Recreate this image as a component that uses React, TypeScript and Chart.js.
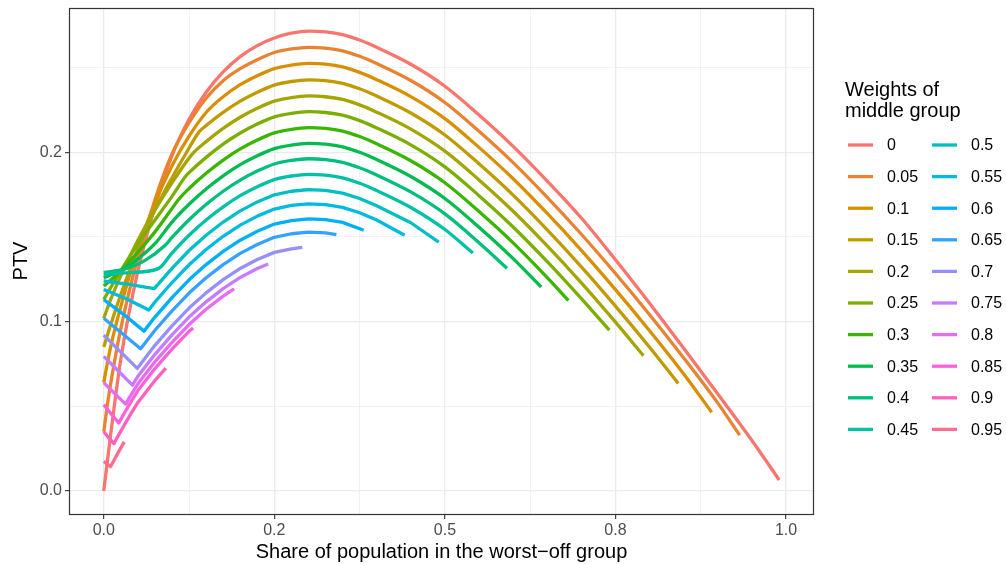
import React, { useEffect, useRef } from "react";
import { Chart, registerables } from "chart.js";

Chart.register(...registerables);

// ---------- data ----------
const weightLabels = ["0", "0.05", "0.1", "0.15", "0.2", "0.25", "0.3", "0.35", "0.4", "0.45",
  "0.5", "0.55", "0.6", "0.65", "0.7", "0.75", "0.8", "0.85", "0.9", "0.95"];

const lineColors = ["#F8766D", "#EA8331", "#D89000", "#C09B00", "#A3A500", "#7CAE00", "#39B600",
  "#00BB4E", "#00BF7D", "#00C1A3", "#00BFC4", "#00BAE0", "#00B0F6", "#35A2FF", "#9590FF",
  "#C77CFF", "#E76BF3", "#FA62DB", "#FF62BC", "#FF6C91"];

const xMajorTicks = [0, 0.25, 0.5, 0.75, 1];
const xTickLabels = ["0.0", "0.2", "0.5", "0.8", "1.0"];
const xMinorTicks = [0.125, 0.375, 0.625, 0.875];
const yMajorTicks = [0, 0.1, 0.2];
const yTickLabels = ["0.0", "0.1", "0.2"];
const yMinorTicks = [0.05, 0.15, 0.25];

const xTitle = "Share of population in the worst\u2212off group";
const yTitle = "PTV";
const legendTitle = ["Weights of", "middle group"];

// [share of worst-off group, PTV]
const ptvW000: number[][] = [[0, 0], [0.01, 0.033], [0.025, 0.078], [0.05, 0.13], [0.075, 0.168], [0.1, 0.198], [0.125, 0.2195], [0.15, 0.2355], [0.175, 0.2475], [0.2, 0.2565], [0.225, 0.263], [0.25, 0.2675], [0.275, 0.2703], [0.3, 0.2716], [0.325, 0.2711], [0.35, 0.2695], [0.375, 0.2663], [0.4, 0.262], [0.45, 0.252], [0.5, 0.239], [0.55, 0.222], [0.6, 0.2035], [0.65, 0.183], [0.7, 0.1612], [0.75, 0.1365], [0.8, 0.1108], [0.85, 0.0843], [0.9, 0.0573], [0.95, 0.0298], [0.99, 0.0065]];
const ptvW005: number[][] = [[0, 0.035], [0.005, 0.05], [0.01, 0.063], [0.025, 0.096], [0.05, 0.138], [0.075, 0.172], [0.1, 0.199], [0.125, 0.2175], [0.15, 0.232], [0.175, 0.2423], [0.2, 0.2494], [0.225, 0.2547], [0.25, 0.2589], [0.275, 0.261], [0.3, 0.262], [0.325, 0.2615], [0.35, 0.2599], [0.375, 0.2567], [0.4, 0.2524], [0.45, 0.2424], [0.5, 0.2294], [0.55, 0.2124], [0.6, 0.1939], [0.65, 0.1734], [0.7, 0.1516], [0.75, 0.1284], [0.8, 0.1041], [0.85, 0.0786], [0.9, 0.0519], [0.932, 0.033]];
const ptvW010: number[][] = [[0, 0.064], [0.005, 0.075], [0.01, 0.085], [0.025, 0.109], [0.05, 0.143], [0.075, 0.17], [0.1, 0.192], [0.125, 0.2095], [0.15, 0.2235], [0.175, 0.2328], [0.2, 0.2399], [0.225, 0.2452], [0.25, 0.2494], [0.275, 0.2515], [0.3, 0.2525], [0.325, 0.252], [0.35, 0.2504], [0.375, 0.2472], [0.4, 0.2429], [0.45, 0.2329], [0.5, 0.2199], [0.55, 0.2029], [0.6, 0.1844], [0.65, 0.1639], [0.7, 0.1421], [0.75, 0.1189], [0.8, 0.0946], [0.85, 0.0691], [0.891, 0.0465]];
const ptvW015: number[][] = [[0, 0.085], [0.01, 0.098], [0.025, 0.116], [0.05, 0.143], [0.075, 0.166], [0.1, 0.185], [0.12, 0.199], [0.14, 0.2122], [0.15, 0.2158], [0.175, 0.2236], [0.2, 0.2302], [0.225, 0.2355], [0.25, 0.2397], [0.275, 0.2418], [0.3, 0.2428], [0.325, 0.2423], [0.35, 0.2407], [0.375, 0.2375], [0.4, 0.2332], [0.45, 0.2232], [0.5, 0.2102], [0.55, 0.1932], [0.6, 0.1747], [0.65, 0.1542], [0.7, 0.1324], [0.75, 0.1092], [0.8, 0.0849], [0.842, 0.0635]];
const ptvW020: number[][] = [[0, 0.102], [0.01, 0.113], [0.025, 0.127], [0.05, 0.148], [0.075, 0.166], [0.1, 0.182], [0.13, 0.1991], [0.15, 0.2063], [0.175, 0.2141], [0.2, 0.2207], [0.225, 0.226], [0.25, 0.2302], [0.275, 0.2323], [0.3, 0.2333], [0.325, 0.2328], [0.35, 0.2312], [0.375, 0.228], [0.4, 0.2237], [0.45, 0.2137], [0.5, 0.2007], [0.55, 0.1837], [0.6, 0.1652], [0.65, 0.1447], [0.7, 0.1229], [0.75, 0.0997], [0.791, 0.0799]];
const ptvW025: number[][] = [[0, 0.113], [0.01, 0.12], [0.025, 0.13], [0.05, 0.146], [0.075, 0.16], [0.1, 0.174], [0.12, 0.1859], [0.125, 0.188], [0.15, 0.197], [0.175, 0.2048], [0.2, 0.2114], [0.225, 0.2167], [0.25, 0.2209], [0.275, 0.223], [0.3, 0.224], [0.325, 0.2235], [0.35, 0.2219], [0.375, 0.2187], [0.4, 0.2144], [0.45, 0.2044], [0.5, 0.1914], [0.55, 0.1744], [0.6, 0.1559], [0.65, 0.1354], [0.7, 0.1136], [0.741, 0.095]];
const ptvW030: number[][] = [[0, 0.121], [0.025, 0.13], [0.05, 0.141], [0.075, 0.153], [0.095, 0.164], [0.11, 0.1723], [0.125, 0.1786], [0.15, 0.1876], [0.175, 0.1954], [0.2, 0.202], [0.225, 0.2073], [0.25, 0.2115], [0.275, 0.2136], [0.3, 0.2146], [0.325, 0.2141], [0.35, 0.2125], [0.375, 0.2093], [0.4, 0.205], [0.45, 0.195], [0.5, 0.182], [0.55, 0.165], [0.6, 0.1465], [0.65, 0.126], [0.681, 0.1125]];
const ptvW035: number[][] = [[0, 0.126], [0.025, 0.13], [0.05, 0.137], [0.075, 0.146], [0.1, 0.1588], [0.125, 0.1693], [0.15, 0.1783], [0.175, 0.1861], [0.2, 0.1927], [0.225, 0.198], [0.25, 0.2022], [0.275, 0.2043], [0.3, 0.2053], [0.325, 0.2048], [0.35, 0.2032], [0.375, 0.2], [0.4, 0.1957], [0.45, 0.1857], [0.5, 0.1727], [0.55, 0.1557], [0.6, 0.1372], [0.641, 0.1205]];
const ptvW040: number[][] = [[0, 0.129], [0.03, 0.131], [0.06, 0.136], [0.09, 0.1451], [0.1, 0.1497], [0.125, 0.1602], [0.15, 0.1692], [0.175, 0.177], [0.2, 0.1836], [0.225, 0.1889], [0.25, 0.1931], [0.275, 0.1952], [0.3, 0.1962], [0.325, 0.1957], [0.35, 0.1941], [0.375, 0.1909], [0.4, 0.1866], [0.45, 0.1766], [0.5, 0.1636], [0.55, 0.1466], [0.591, 0.1315]];
const ptvW045: number[][] = [[0, 0.128], [0.04, 0.129], [0.08, 0.1313], [0.1, 0.1405], [0.125, 0.151], [0.15, 0.16], [0.175, 0.1678], [0.2, 0.1744], [0.225, 0.1797], [0.25, 0.1839], [0.275, 0.186], [0.3, 0.187], [0.325, 0.1865], [0.35, 0.1849], [0.375, 0.1817], [0.4, 0.1774], [0.45, 0.1674], [0.5, 0.1544], [0.541, 0.1405]];
const ptvW050: number[][] = [[0, 0.124], [0.037, 0.122], [0.074, 0.1195], [0.1, 0.1315], [0.125, 0.142], [0.15, 0.151], [0.175, 0.1588], [0.2, 0.1654], [0.225, 0.1707], [0.25, 0.1749], [0.275, 0.177], [0.3, 0.178], [0.325, 0.1775], [0.35, 0.1759], [0.375, 0.1727], [0.4, 0.1684], [0.45, 0.1584], [0.491, 0.147]];
const ptvW055: number[][] = [[0, 0.119], [0.033, 0.1135], [0.066, 0.1069], [0.075, 0.1116], [0.1, 0.1231], [0.125, 0.1336], [0.15, 0.1426], [0.175, 0.1504], [0.2, 0.157], [0.225, 0.1623], [0.25, 0.1665], [0.275, 0.1686], [0.3, 0.1696], [0.325, 0.1691], [0.35, 0.1675], [0.375, 0.1643], [0.4, 0.16], [0.441, 0.151]];
const ptvW060: number[][] = [[0, 0.113], [0.03, 0.104], [0.059, 0.0944], [0.075, 0.1027], [0.1, 0.1142], [0.125, 0.1247], [0.15, 0.1337], [0.175, 0.1415], [0.2, 0.1481], [0.225, 0.1534], [0.25, 0.1576], [0.275, 0.1597], [0.3, 0.1607], [0.325, 0.1602], [0.35, 0.1586], [0.381, 0.154]];
const ptvW065: number[][] = [[0, 0.102], [0.027, 0.093], [0.054, 0.084], [0.075, 0.0949], [0.1, 0.1064], [0.125, 0.1169], [0.15, 0.1259], [0.175, 0.1337], [0.2, 0.1403], [0.225, 0.1456], [0.25, 0.1498], [0.275, 0.1519], [0.3, 0.1529], [0.325, 0.1524], [0.341, 0.1514]];
const ptvW070: number[][] = [[0, 0.092], [0.025, 0.082], [0.049, 0.0724], [0.075, 0.086], [0.1, 0.0975], [0.125, 0.108], [0.15, 0.117], [0.175, 0.1248], [0.2, 0.1314], [0.225, 0.1367], [0.25, 0.1409], [0.275, 0.143], [0.291, 0.1438]];
const ptvW075: number[][] = [[0, 0.0795], [0.021, 0.071], [0.042, 0.0625], [0.05, 0.0677], [0.075, 0.0807], [0.1, 0.0922], [0.125, 0.1027], [0.15, 0.1117], [0.175, 0.1195], [0.2, 0.1261], [0.225, 0.1314], [0.241, 0.134]];
const ptvW080: number[][] = [[0, 0.064], [0.016, 0.0575], [0.032, 0.0513], [0.04, 0.0568], [0.05, 0.0633], [0.075, 0.0763], [0.1, 0.0878], [0.125, 0.0983], [0.15, 0.1073], [0.175, 0.1151], [0.191, 0.1193]];
const ptvW085: number[][] = [[0, 0.051], [0.011, 0.0455], [0.022, 0.0402], [0.03, 0.0459], [0.04, 0.0528], [0.05, 0.0593], [0.075, 0.0723], [0.1, 0.0838], [0.125, 0.0943], [0.131, 0.0963]];
const ptvW090: number[][] = [[0, 0.035], [0.008, 0.031], [0.015, 0.028], [0.02, 0.0318], [0.03, 0.0389], [0.04, 0.0458], [0.05, 0.0523], [0.075, 0.0653], [0.091, 0.0726]];
const ptvW095: number[][] = [[0, 0.0175], [0.01, 0.0144], [0.02, 0.0219], [0.03, 0.029]];

const seriesList = [ptvW000, ptvW005, ptvW010, ptvW015, ptvW020, ptvW025, ptvW030, ptvW035, ptvW040, ptvW045,
  ptvW050, ptvW055, ptvW060, ptvW065, ptvW070, ptvW075, ptvW080, ptvW085, ptvW090, ptvW095];

// ---------- layout / style ----------
const W = 1006;
const H = 564;
const FONT = '"Liberation Sans", Arial, Helvetica, sans-serif';
const X_MIN = -0.0495;
const X_MAX = 1.0395;
const Y_MIN = -0.01358;
const Y_MAX = 0.2852;
const LINE_W = 3.3;

const panelBorderPlugin = {
  id: "panelBorder",
  afterDatasetsDraw(chart: any) {
    const { ctx, chartArea } = chart;
    ctx.save();
    ctx.strokeStyle = "#333333";
    ctx.lineWidth = 1.2;
    const l = Math.round(chartArea.left) - 0.5;
    const t = Math.round(chartArea.top) + 0.5;
    const r = Math.round(chartArea.right) + 0.5;
    const b = Math.round(chartArea.bottom) + 0.5;
    ctx.strokeRect(l, t, r - l, b - t);
    ctx.restore();
  },
};

const ggLegendPlugin = {
  id: "ggLegend",
  afterDraw(chart: any) {
    const ctx = chart.ctx;
    ctx.save();
    ctx.fillStyle = "#000000";
    ctx.textAlign = "left";
    ctx.textBaseline = "alphabetic";
    ctx.font = `20px ${FONT}`;
    ctx.fillText(legendTitle[0], 845, 96);
    ctx.fillText(legendTitle[1], 845, 117);
    ctx.font = `16px ${FONT}`;
    ctx.textBaseline = "middle";
    chart.data.datasets.forEach((ds: any, i: number) => {
      const col = Math.floor(i / 10);
      const row = i % 10;
      const y = 145 + row * 31.6;
      const kx = col === 0 ? 848 : 932;
      ctx.strokeStyle = ds.borderColor;
      ctx.lineWidth = LINE_W;
      ctx.lineCap = "butt";
      ctx.beginPath();
      ctx.moveTo(kx, y);
      ctx.lineTo(kx + 25, y);
      ctx.stroke();
      ctx.fillStyle = "#000000";
      ctx.fillText(ds.label, col === 0 ? 887 : 971, y + 1);
    });
    ctx.restore();
  },
};

function isIn(list: number[], v: number) {
  return list.some((t) => Math.abs(t - v) < 1e-9);
}

export default function App() {
  const canvasRef = useRef<HTMLCanvasElement | null>(null);

  useEffect(() => {
    document.body.style.margin = "0";
    Chart.defaults.font.family = FONT;
    const canvas = canvasRef.current;
    if (!canvas) return;

    const datasets = seriesList.map((s, i) => {
      const smooth = i < 10;
      return {
        label: weightLabels[i],
        data: s.map((p) => ({ x: p[0], y: p[1] })),
        borderColor: lineColors[i],
        backgroundColor: lineColors[i],
        borderWidth: LINE_W,
        pointRadius: 0,
        pointHoverRadius: 0,
        tension: smooth ? 0.4 : 0,
        cubicInterpolationMode: smooth ? ("monotone" as const) : ("default" as const),
        fill: false,
        borderJoinStyle: "round" as const,
        borderCapStyle: "butt" as const,
        order: seriesList.length - 1 - i,
      };
    });

    const chart = new Chart(canvas, {
      type: "line",
      data: { datasets },
      options: {
        animation: false,
        responsive: false,
        devicePixelRatio: 1,
        layout: { padding: { left: 0, top: 8, right: W - 813, bottom: 0 } },
        plugins: { legend: { display: false }, tooltip: { enabled: false } },
        events: [],
        scales: {
          x: {
            type: "linear",
            min: X_MIN,
            max: X_MAX,
            afterBuildTicks: (axis: any) => {
              axis.ticks = [...xMajorTicks, ...xMinorTicks].sort((a, b) => a - b).map((v) => ({ value: v }));
            },
            afterFit: (s: any) => {
              s.height = 50;
              s.paddingLeft = 0;
              s.paddingRight = 0;
            },
            ticks: {
              autoSkip: false,
              maxRotation: 0,
              minRotation: 0,
              color: "#4D4D4D",
              font: { size: 16, family: FONT },
              padding: 2,
              callback: (v: any) => {
                const i = xMajorTicks.findIndex((t) => Math.abs(t - v) < 1e-9);
                return i >= 0 ? xTickLabels[i] : "";
              },
            },
            grid: {
              color: "#EBEBEB",
              lineWidth: (c: any) => (c.tick && isIn(xMajorTicks, c.tick.value) ? 1.3 : 0.65),
              tickLength: 5,
              tickWidth: 1.1,
              tickColor: (c: any) => (c.tick && isIn(xMajorTicks, c.tick.value) ? "#333333" : "rgba(0,0,0,0)"),
            },
            border: { display: false },
            title: {
              display: true,
              text: xTitle,
              color: "#000000",
              font: { size: 20, family: FONT },
              padding: { top: 0, bottom: 0 },
            },
          },
          y: {
            type: "linear",
            min: Y_MIN,
            max: Y_MAX,
            afterBuildTicks: (axis: any) => {
              axis.ticks = [...yMajorTicks, ...yMinorTicks].sort((a, b) => a - b).map((v) => ({ value: v }));
            },
            afterFit: (s: any) => {
              s.width = 70;
              s.paddingTop = 0;
              s.paddingBottom = 0;
            },
            ticks: {
              autoSkip: false,
              color: "#4D4D4D",
              font: { size: 16, family: FONT },
              padding: 3,
              callback: (v: any) => {
                const i = yMajorTicks.findIndex((t) => Math.abs(t - v) < 1e-9);
                return i >= 0 ? yTickLabels[i] : "";
              },
            },
            grid: {
              color: "#EBEBEB",
              lineWidth: (c: any) => (c.tick && isIn(yMajorTicks, c.tick.value) ? 1.3 : 0.65),
              tickLength: 5,
              tickWidth: 1.1,
              tickColor: (c: any) => (c.tick && isIn(yMajorTicks, c.tick.value) ? "#333333" : "rgba(0,0,0,0)"),
            },
            border: { display: false },
            title: {
              display: true,
              text: yTitle,
              color: "#000000",
              font: { size: 20, family: FONT },
              padding: { top: 9, bottom: 0 },
            },
          },
        },
      },
      plugins: [panelBorderPlugin, ggLegendPlugin],
    } as any);

    return () => {
      chart.destroy();
    };
  }, []);

  return (
    <div style={{ width: W, height: H, background: "#ffffff" }}>
      <canvas ref={canvasRef} width={W} height={H} style={{ display: "block", width: W, height: H }} />
    </div>
  );
}
